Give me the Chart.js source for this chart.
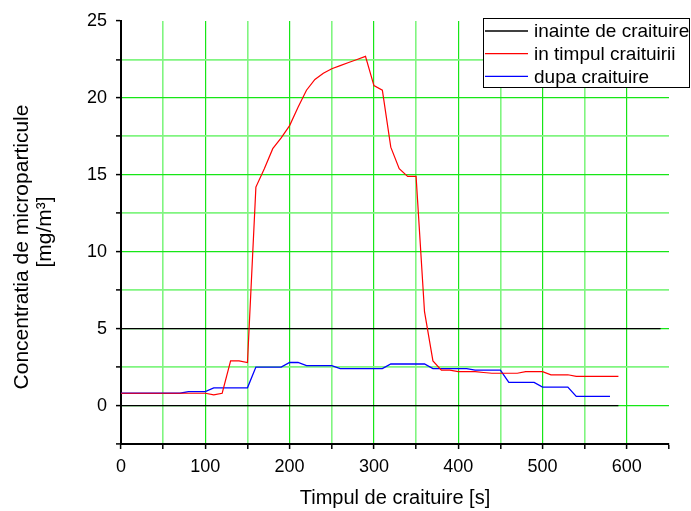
<!DOCTYPE html>
<html>
<head>
<meta charset="utf-8">
<script src="https://cdn.jsdelivr.net/npm/chart.js@4/dist/chart.umd.min.js"></script>
<style>
  html, body { margin: 0; padding: 0; background: #fff; }
</style>
</head>
<body>
<canvas id="grafic" width="691" height="511"></canvas>
<script>
// date (pas de 10 s)
const timp = [0, 10, 20, 30, 40, 50, 60, 70, 80, 90,
  100, 110, 120, 130, 140, 150, 160, 170, 180, 190,
  200, 210, 220, 230, 240, 250, 260, 270, 280, 290,
  300, 310, 320, 330, 340, 350, 360, 370, 380, 390,
  400, 410, 420, 430, 440, 450, 460, 470, 480, 490,
  500, 510, 520, 530, 540, 550, 560, 570, 580, 590];

const inainte = [0, 0, 0, 0, 0, 0, 0, 0, 0, 0,
  0, 0, 0, 0, 0, 0, 0, 0, 0, 0,
  0, 0, 0, 0, 0, 0, 0, 0, 0, 0,
  0, 0, 0, 0, 0, 0, 0, 0, 0, 0,
  0, 0, 0, 0, 0, 0, 0, 0, 0, 0,
  0, 0, 0, 0, 0, 0, 0, 0, 0, 0];

const inTimpul = [0.8, 0.8, 0.8, 0.8, 0.8, 0.8, 0.8, 0.8, 0.8, 0.8,
  0.8, 0.7, 0.8, 2.9, 2.9, 2.8, 14.2, 15.4, 16.7, 17.4,
  18.2, 19.4, 20.5, 21.2, 21.6, 21.9, 22.1, 22.3, 22.5, 22.7,
  20.8, 20.5, 16.8, 15.4, 14.9, 14.9, 6.1, 2.9, 2.3, 2.3,
  2.2, 2.2, 2.2, 2.15, 2.1, 2.1, 2.1, 2.1, 2.2, 2.2,
  2.2, 2.0, 2.0, 2.0, 1.9, 1.9, 1.9, 1.9, 1.9, 1.9];

const dupa = [0.8, 0.8, 0.8, 0.8, 0.8, 0.8, 0.8, 0.8, 0.9, 0.9,
  0.9, 1.15, 1.15, 1.15, 1.15, 1.15, 2.5, 2.5, 2.5, 2.5,
  2.8, 2.8, 2.6, 2.6, 2.6, 2.6, 2.4, 2.4, 2.4, 2.4,
  2.4, 2.4, 2.7, 2.7, 2.7, 2.7, 2.7, 2.4, 2.4, 2.4,
  2.4, 2.4, 2.3, 2.3, 2.3, 2.3, 1.5, 1.5, 1.5, 1.5,
  1.2, 1.2, 1.2, 1.2, 0.6, 0.6, 0.6, 0.6, 0.6];

// linia de limita la 5 mg/m3
const limitaX = [0, 640];
const limitaY = [5, 5];

const xTickLabels = [0, 100, 200, 300, 400, 500, 600];
const yTickLabels = [0, 5, 10, 15, 20, 25];
const yTitlu = ['Concentratia de microparticule', '[mg/m\u00b3]'];

const puncte = (xs, ys) => ys.map((v, i) => ({ x: xs[i], y: v }));

const font = "'Liberation Sans', Arial, sans-serif";
const verde = '#17e617';
const verdeDeschis = '#80f580';

// legenda desenata in interiorul graficului, cu chenar
const legendaBox = {
  id: 'legendaBox',
  afterDraw(chart) {
    const ctx = chart.ctx;
    const items = chart.data.datasets.filter(d => d.label);
    ctx.save();
    ctx.fillStyle = '#fff';
    ctx.fillRect(483.5, 18.5, 206, 69);
    ctx.strokeStyle = '#000';
    ctx.lineWidth = 1;
    ctx.strokeRect(483.5, 18.5, 206, 69);
    ctx.font = '19px ' + font;
    ctx.textBaseline = 'middle';
    items.forEach((d, i) => {
      const y = 31 + i * 22.7;
      ctx.strokeStyle = d.borderColor;
      ctx.lineWidth = 1.3;
      ctx.beginPath();
      ctx.moveTo(485, y);
      ctx.lineTo(528, y);
      ctx.stroke();
      ctx.fillStyle = '#000';
      ctx.fillText(d.label, 534, y + 1);
    });
    ctx.restore();
  }
};

// titlul axei Y pe doua randuri, rotit
const titluY = {
  id: 'titluY',
  afterDraw(chart) {
    const ctx = chart.ctx;
    ctx.save();
    ctx.fillStyle = '#000';
    ctx.font = '21px ' + font;
    ctx.textAlign = 'center';
    ctx.textBaseline = 'middle';
    [[22, 247], [45, 232]].forEach(([x, y], i) => {
      ctx.save();
      ctx.translate(x, y);
      ctx.rotate(-Math.PI / 2);
      ctx.fillText(yTitlu[i], 0, 0);
      ctx.restore();
    });
    ctx.restore();
  }
};

new Chart(document.getElementById('grafic'), {
  type: 'line',
  data: {
    datasets: [
      {
        label: 'inainte de craituire',
        data: puncte(timp, inainte),
        borderColor: '#000',
        borderWidth: 1.3
      },
      {
        label: 'in timpul craituirii',
        data: puncte(timp, inTimpul),
        borderColor: '#ff0000',
        borderWidth: 1.2
      },
      {
        label: 'dupa craituire',
        data: puncte(timp, dupa),
        borderColor: '#0000ff',
        borderWidth: 1.3
      },
      {
        label: '',
        data: puncte(limitaX, limitaY),
        borderColor: '#000',
        borderWidth: 1.3
      }
    ]
  },
  options: {
    responsive: false,
    animation: false,
    devicePixelRatio: 1,
    layout: { padding: { top: 21, right: 22, left: 0, bottom: 0 } },
    elements: { point: { radius: 0 }, line: { tension: 0 } },
    plugins: { legend: { display: false }, tooltip: { enabled: false } },
    scales: {
      x: {
        type: 'linear',
        min: 0,
        max: 650,
        afterFit: s => { s.height = 67; },
        border: { color: '#000', width: 2 },
        grid: {
          color: c => (c.tick.value === 0 || c.tick.value === 650) ? 'rgba(0,0,0,0)'
            : (c.tick.value % 100 === 0 ? verde : verdeDeschis),
          lineWidth: c => c.tick.value % 100 === 0 ? 1.2 : 1.6,
          tickColor: '#000',
          tickLength: 5,
          tickWidth: 1.5
        },
        ticks: {
          stepSize: 50,
          autoSkip: false,
          maxRotation: 0,
          padding: 7,
          color: '#000',
          font: { family: font, size: 18 },
          callback: v => xTickLabels.includes(v) ? String(v) : ''
        },
        title: {
          display: true,
          text: 'Timpul de craituire [s]',
          color: '#000',
          font: { family: font, size: 20 },
          padding: { top: 0, bottom: 1 }
        }
      },
      y: {
        min: -2.5,
        max: 25,
        afterFit: s => { s.width = 121; },
        border: { color: '#000', width: 2 },
        grid: {
          color: c => (c.tick.value === -2.5 || c.tick.value === 25) ? 'rgba(0,0,0,0)'
            : (c.tick.value % 5 === 0 ? verde : verdeDeschis),
          lineWidth: c => c.tick.value % 5 === 0 ? 1.2 : 1.8,
          tickColor: '#000',
          tickLength: 5,
          tickWidth: 1.5
        },
        ticks: {
          stepSize: 2.5,
          autoSkip: false,
          padding: 9,
          color: '#000',
          font: { family: font, size: 18 },
          callback: v => yTickLabels.includes(v) ? String(v) : ''
        }
      }
    }
  },
  plugins: [legendaBox, titluY]
});
</script>
</body>
</html>
